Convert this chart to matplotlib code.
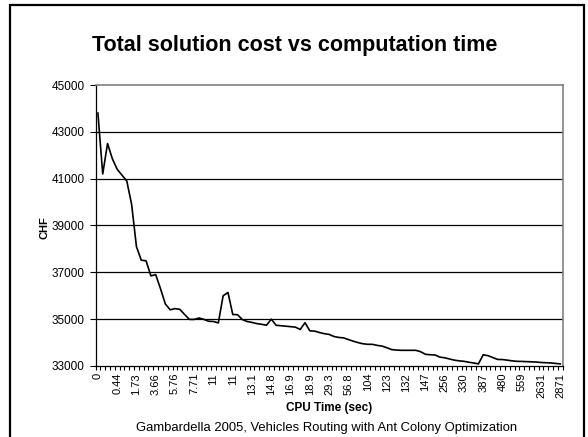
import matplotlib
matplotlib.use("Agg")
import matplotlib.pyplot as plt
from matplotlib.patches import Rectangle

plt.rcParams['font.family'] = ['Liberation Sans', 'DejaVu Sans']

# cost (CHF) per sample
cost = [43800, 41200, 42500, 41850, 41400, 41150, 40900, 39900, 38100, 37520,
        37490, 36850, 36900, 36300, 35650, 35400, 35450, 35420, 35200, 34990,
        34990, 35050, 34990, 34910, 34900, 34840, 36000, 36140, 35200, 35190,
        34980, 34900, 34860, 34810, 34780, 34740, 35000, 34740, 34720, 34700,
        34680, 34660, 34560, 34850, 34500, 34490, 34430, 34380, 34350, 34260,
        34220, 34200, 34130, 34060, 34000, 33950, 33927, 33925, 33880, 33850,
        33780, 33700, 33680, 33670, 33670, 33670, 33670, 33610, 33500, 33480,
        33470, 33380, 33350, 33300, 33250, 33220, 33200, 33160, 33130, 33090,
        33480, 33440, 33360, 33280, 33275, 33250, 33220, 33200, 33195, 33187,
        33178, 33170, 33150, 33140, 33130, 33110, 33090]

# CPU time labels shown every 4th sample
time_labels = ["0", "0.44", "1.73", "3.66", "5.76", "7.71", "11", "11", "13.1",
               "14.8", "16.9", "18.9", "29.3", "56.8", "104", "123", "132", "147",
               "256", "330", "387", "480", "559", "2631", "2871"]
label_step = 4

y_ticks = [33000, 35000, 37000, 39000, 41000, 43000, 45000]

W, H = 588, 437
fig = plt.figure(figsize=(5.88, 4.37), dpi=100)
ax = fig.add_axes([95.5 / W, 1 - 366 / H, (562.7 - 95.5) / W, (366 - 85) / H])

n = len(cost)
ax.plot(range(n), cost, color='black', linewidth=1.2, zorder=3)

ax.set_xlim(-0.5, n - 0.5)
ax.set_ylim(33000, 45000)

for v in y_ticks[1:-1]:
    ax.axhline(v, color='black', linewidth=0.9, zorder=1)

ax.set_yticks(y_ticks)
ax.set_yticklabels([str(v) for v in y_ticks], fontsize=8.5)
ax.tick_params(axis='y', direction='out', length=4, width=0.8, pad=4)

ax.set_xticks([i * label_step for i in range(len(time_labels))])
ax.set_xticklabels(time_labels, rotation=90, fontsize=8)
ax.set_xticks([i - 0.5 for i in range(n + 1)], minor=True)
ax.tick_params(axis='x', which='major', length=0, pad=5)
ax.tick_params(axis='x', which='minor', direction='out', length=3, width=0.8)

for side in ['top', 'right']:
    ax.spines[side].set_color('#808080')
    ax.spines[side].set_linewidth(1.2)
for side in ['left', 'bottom']:
    ax.spines[side].set_color('black')
    ax.spines[side].set_linewidth(0.9)

fig.text(45 / W, 1 - 228 / H, "CHF", rotation=90, ha='center', va='center',
         fontsize=8, fontweight='bold')
fig.text(329 / W, 1 - 408 / H, "CPU Time (sec)", ha='center', va='center',
         fontsize=8.5, fontweight='bold')

fig.text(295 / W, 1 - 45 / H, "Total solution cost vs computation time",
         ha='center', va='center', fontsize=15.5, fontweight='bold')
fig.text(327 / W, 1 - 428 / H,
         "Gambardella 2005, Vehicles Routing with Ant Colony Optimization",
         ha='center', va='center', fontsize=9.4)

# chart frame
fig.patches.append(Rectangle((10 / W, -0.05), (584 - 10) / W, 1.05 - 5 / H,
                             transform=fig.transFigure, fill=False,
                             edgecolor='black', linewidth=1.6))

fig.savefig("out.png", dpi=100)
